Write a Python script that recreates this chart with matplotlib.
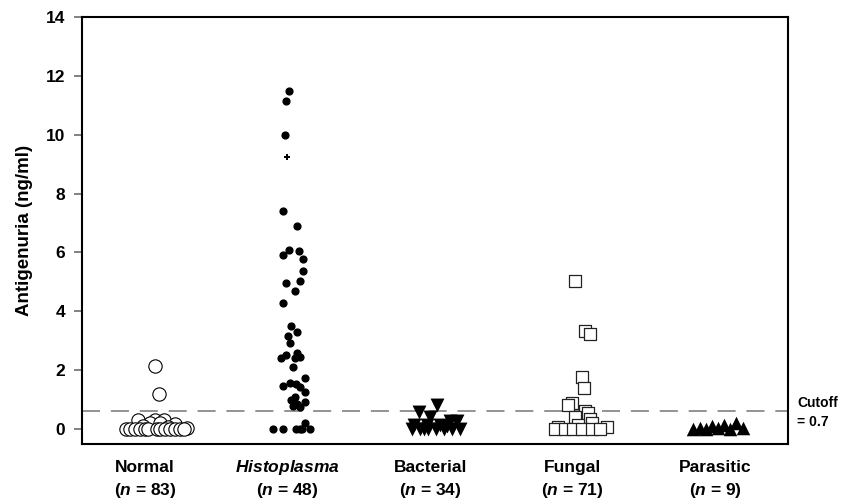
import matplotlib
matplotlib.use("Agg")
import matplotlib.pyplot as plt

plt.rcParams["font.family"] = "Liberation Sans"
plt.rcParams["font.weight"] = "bold"
plt.rcParams["mathtext.fontset"] = "custom"
plt.rcParams["mathtext.it"] = "Liberation Sans:italic:bold"
plt.rcParams["mathtext.rm"] = "Liberation Sans:bold"

# group labels
groups = ["Normal", "$Histoplasma$", "Bacterial", "Fungal", "Parasitic"]
group_n = [83, 48, 34, 71, 9]
cutoff = 0.6

# values (ng/ml) and horizontal jitter
normal_val = [2.15, 1.19, 0.30, 0.32, 0.30, 0.20, 0.20, 0.18, 0.10, 0.08, 0.05, 0.02,
              0, 0, 0, 0, 0, 0, 0, 0, 0, 0, 0, 0]
normal_jit = [0.07, 0.10, -0.05, 0.07, 0.13, 0.035, 0.105, 0.21, -0.015, 0.16, 0.29, -0.135,
              -0.105, -0.07, -0.035, 0.0, 0.02, 0.085, 0.105, 0.14, 0.175, 0.21, 0.245, 0.275]

histo_val = [11.49, 11.15, 9.98, 7.42, 6.89, 6.10, 5.93, 6.06, 5.79, 5.38, 4.97, 5.04,
             4.70, 4.29, 3.49, 3.30, 3.17, 2.93, 2.52, 2.42, 2.59, 2.42, 2.45, 2.11,
             1.57, 1.46, 1.74, 1.43, 1.26, 1.52, 1.09, 0.99, 0.92, 0.78, 0.75, 0.85,
             0.20, 0, 0, 0, 0, 0, 0]
histo_jit = [0.01, -0.015, -0.02, -0.035, 0.065, 0.01, -0.03, 0.08, 0.105, 0.105, -0.015, 0.085,
             0.05, -0.035, 0.02, 0.065, 0.0, 0.015, -0.015, -0.05, 0.065, 0.05, 0.085, 0.035,
             0.015, -0.035, 0.12, 0.085, 0.12, 0.055, 0.05, 0.02, 0.12, 0.04, 0.09, 0.065,
             0.12, -0.1, -0.03, 0.055, 0.085, 0.16, 0.1]
histo_plus_val = [9.24]
histo_plus_jit = [-0.005]

bact_val = [0.82, 0.58, 0.41, 0.27, 0.27, 0.14, 0.14, 0.14, 0.10,
            0, 0, 0, 0, 0, 0, 0, 0]
bact_jit = [0.05, -0.08, 0.0, 0.14, 0.19, -0.11, -0.02, 0.07, 0.12,
            -0.13, -0.07, -0.015, 0.04, 0.1, 0.155, 0.21, -0.04]

fungal_val = [5.04, 3.34, 3.23, 1.77, 1.40, 0.89, 0.82, 0.62, 0.55, 0.41, 0.34, 0.20, 0.15,
              0.07, 0.07, 0, 0, 0, 0, 0, 0]
fungal_jit = [0.02, 0.09, 0.125, 0.065, 0.08, -0.005, -0.03, 0.085, 0.11, 0.015, 0.12, 0.14, 0.035,
              -0.105, 0.245, -0.12, -0.055, 0.005, 0.07, 0.135, 0.195]

para_val = [0.0, 0.05, 0.0, 0.10, 0.05, 0.15, 0.0, 0.20, 0.05]
para_jit = [-0.155, -0.105, -0.065, -0.02, 0.02, 0.065, 0.105, 0.15, 0.195]

fig = plt.figure(figsize=(8.44, 4.99), dpi=100)
ax = fig.add_axes([0.097, 0.110, 0.837, 0.856])

ax.axhline(cutoff, color="#8a8a8a", linewidth=1.3, dashes=(10, 6), zorder=1)

ax.scatter([1 + j for j in normal_jit], normal_val, s=92, marker="o",
           facecolors="white", edgecolors="black", linewidths=0.8, zorder=3)
ax.scatter([2 + j for j in histo_jit], histo_val, s=24, marker="o",
           color="black", zorder=3)
ax.scatter([2 + j for j in histo_plus_jit], histo_plus_val, s=24, marker="P",
           color="black", linewidths=0, zorder=3)
ax.scatter([3 + j for j in bact_jit], bact_val, s=100, marker="v",
           color="black", linewidths=0, zorder=3)
ax.scatter([4 + j for j in fungal_jit], fungal_val, s=82, marker="s",
           facecolors="white", edgecolors="#222222", linewidths=0.9, zorder=3)
ax.scatter([5 + j for j in para_jit], para_val, s=95, marker="^",
           color="black", linewidths=0, zorder=3)

ax.set_xlim(0.555, 5.515)
ax.set_ylim(-0.51, 14)
ax.set_yticks(range(0, 15, 2))
ax.tick_params(axis="y", direction="out", length=6, width=1.3, color="#777777",
               labelsize=12.5, pad=6)
ax.set_xticks([])
for sp in ax.spines.values():
    sp.set_linewidth(1.5)

ax.set_ylabel("Antigenuria (ng/ml)", fontsize=13.5, fontweight="bold", labelpad=9)

for i, (g, n) in enumerate(zip(groups, group_n)):
    ax.text(i + 1, -1.29, g, ha="center", va="center", fontsize=12.5,
            fontweight="bold")
    ax.text(i + 1, -2.08, f"($n$ = {n})", ha="center", va="center", fontsize=12.5,
            fontweight="bold")

fig.text(797 / 844, 1 - 403 / 499, "Cutoff", fontsize=10, fontweight="bold",
         ha="left", va="center")
fig.text(797 / 844, 1 - 422 / 499, "= 0.7", fontsize=10, fontweight="bold",
         ha="left", va="center")

fig.savefig("out.png", dpi=100)
